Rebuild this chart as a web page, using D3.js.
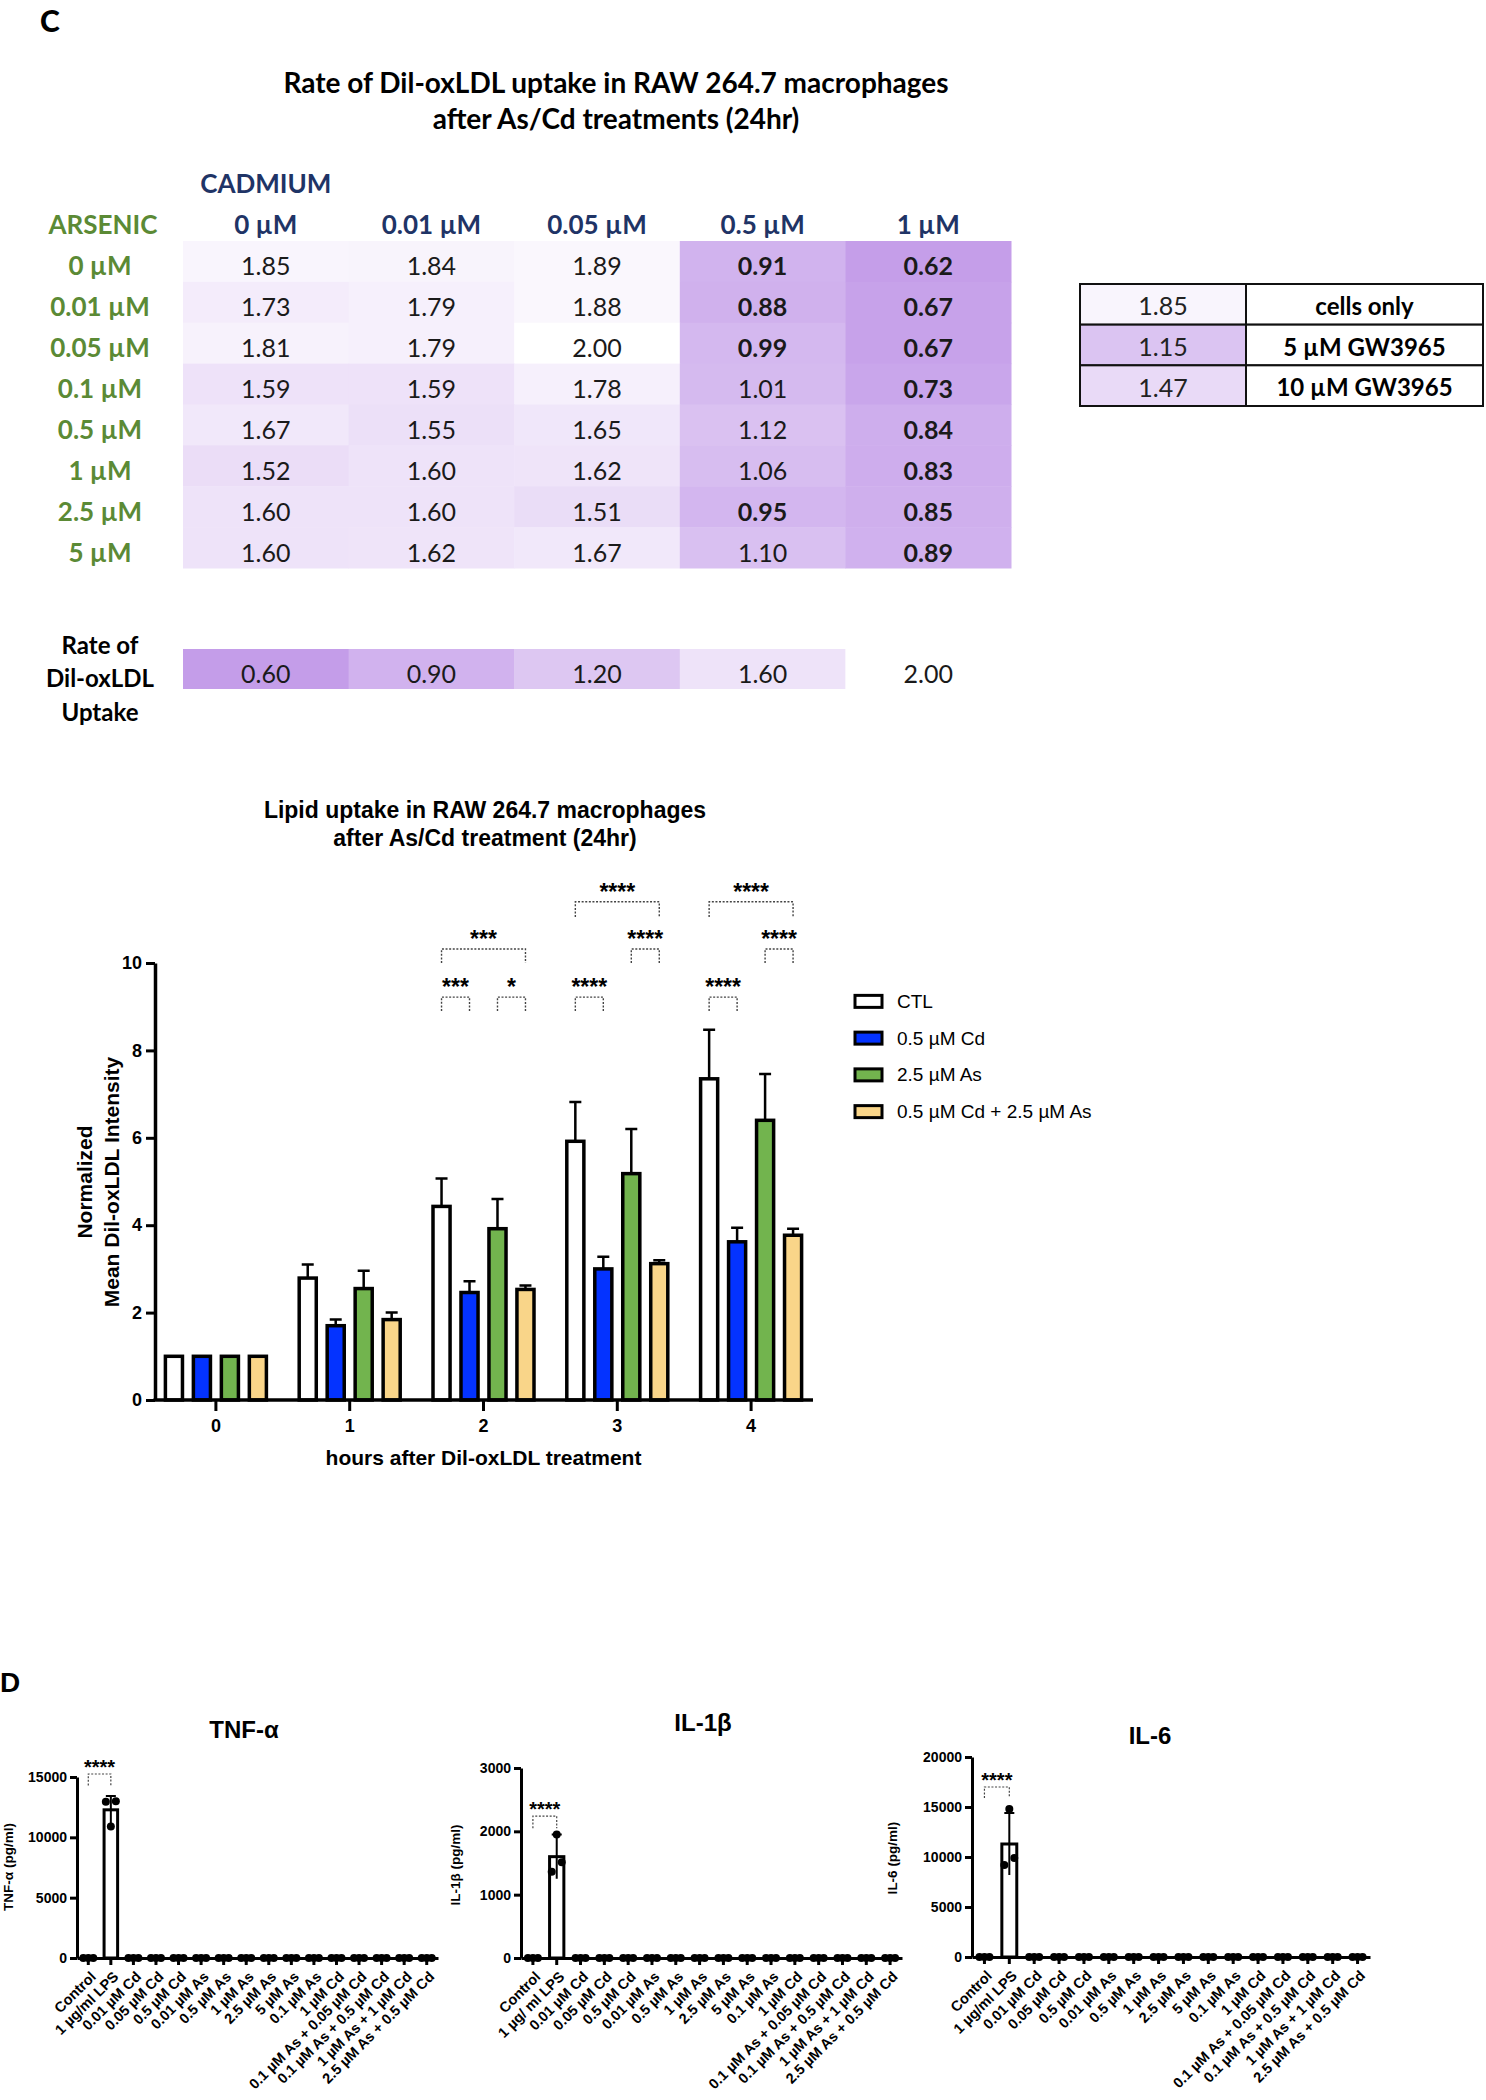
<!DOCTYPE html>
<html><head><meta charset="utf-8">
<script src="https://cdn.jsdelivr.net/npm/d3@7"></script>
<style>body{margin:0;background:#fff}</style>
</head><body><svg id="c" width="1486" height="2100" xmlns="http://www.w3.org/2000/svg"></svg>
<script>
// ================= DATA =================
// Panel C - heatmap
const cadmiumLevels = ["0 µM","0.01 µM","0.05 µM","0.5 µM","1 µM"];
const arsenicLevels = ["0 µM","0.01 µM","0.05 µM","0.1 µM","0.5 µM","1 µM","2.5 µM","5 µM"];
const uptakeRows = [
  [1.85,1.84,1.89,0.91,0.62],
  [1.73,1.79,1.88,0.88,0.67],
  [1.81,1.79,2.00,0.99,0.67],
  [1.59,1.59,1.78,1.01,0.73],
  [1.67,1.55,1.65,1.12,0.84],
  [1.52,1.60,1.62,1.06,0.83],
  [1.60,1.60,1.51,0.95,0.85],
  [1.60,1.62,1.67,1.10,0.89]
];
const legendSteps = [0.60,0.90,1.20,1.60,2.00];
const controlValues = [1.85,1.15,1.47];
const controlLabels = ["cells only","5 µM GW3965","10 µM GW3965"];

// Panel C - grouped bar chart
const hours = ["0","1","2","3","4"];
const treatments = ["CTL","0.5 µM Cd","2.5 µM As","0.5 µM Cd + 2.5 µM As"];
const treatmentColors = ["#ffffff","#0433ff","#72b44e","#f9d589"];
const ctlMean  = [1.0,2.79,4.43,5.92,7.35];
const ctlErr   = [0,0.31,0.64,0.90,1.12];
const cdMean   = [1.0,1.70,2.46,3.00,3.62];
const cdErr    = [0,0.14,0.26,0.28,0.32];
const asMean   = [1.0,2.55,3.92,5.18,6.40];
const asErr    = [0,0.41,0.68,1.02,1.06];
const cdAsMean = [1.0,1.84,2.53,3.12,3.77];
const cdAsErr  = [0,0.16,0.09,0.08,0.15];
const yTicksC = [0,2,4,6,8,10];
// significance brackets: group, from, to, bracket top value, leg end value, label
const sigGroup = ["2","2","2","3","3","3","4","4","4"];
const sigFrom  = ["CTL","2.5 µM As","CTL","CTL","2.5 µM As","CTL","CTL","2.5 µM As","CTL"];
const sigTo    = ["0.5 µM Cd","0.5 µM Cd + 2.5 µM As","0.5 µM Cd + 2.5 µM As","0.5 µM Cd","0.5 µM Cd + 2.5 µM As","0.5 µM Cd + 2.5 µM As","0.5 µM Cd","0.5 µM Cd + 2.5 µM As","0.5 µM Cd + 2.5 µM As"];
const sigTop   = [9.22,9.22,10.32,9.22,10.32,11.4,9.22,10.32,11.4];
const sigLeg   = [8.9,8.9,10.0,8.9,10.0,11.05,8.9,10.0,11.05];
const sigLabel = ["***","*","***","****","****","****","****","****","****"];

// Panel D - cytokines
const cytokineCategories = ["Control","1 µg/ml LPS","0.01 µM Cd","0.05 µM Cd","0.5 µM Cd","0.01 µM As","0.5 µM As","1 µM As","2.5 µM As","5 µM As","0.1 µM As","1 µM Cd","0.1 µM As + 0.05 µM Cd","0.1 µM As + 0.5 µM Cd","1 µM As + 1 µM Cd","2.5 µM As + 0.5 µM Cd"];
const il1bCategories = ["Control","1 µg/ ml LPS","0.01 µM Cd","0.05 µM Cd","0.5 µM Cd","0.01 µM As","0.5 µM As","1 µM As","2.5 µM As","5 µM As","0.1 µM As","1 µM Cd","0.1 µM As + 0.05 µM Cd","0.1 µM As + 0.5 µM Cd","1 µM As + 1 µM Cd","2.5 µM As + 0.5 µM Cd"];
const tnfMean = [0,12280,0,0,0,0,0,0,0,0,0,0,0,0,0,0];
const tnfSD   = [0,1150,0,0,0,0,0,0,0,0,0,0,0,0,0,0];
const tnfReps = [[0,0,0],[12950,10900,13000],[0,0,0],[0,0,0],[0,0,0],[0,0,0],[0,0,0],[0,0,0],[0,0,0],[0,0,0],[0,0,0],[0,0,0],[0,0,0],[0,0,0],[0,0,0],[0,0,0]];
const tnfTicks = [0,5000,10000,15000];
const il1bMean = [0,1600,0,0,0,0,0,0,0,0,0,0,0,0,0,0];
const il1bSD   = [0,350,0,0,0,0,0,0,0,0,0,0,0,0,0,0];
const il1bReps = [[0,0,0],[1360,1950,1510],[0,0,0],[0,0,0],[0,0,0],[0,0,0],[0,0,0],[0,0,0],[0,0,0],[0,0,0],[0,0,0],[0,0,0],[0,0,0],[0,0,0],[0,0,0],[0,0,0]];
const il1bTicks = [0,1000,2000,3000];
const il6Mean = [0,11300,0,0,0,0,0,0,0,0,0,0,0,0,0,0];
const il6SD   = [0,3100,0,0,0,0,0,0,0,0,0,0,0,0,0,0];
const il6Reps = [[0,0,0],[9200,14800,9900],[0,0,0],[0,0,0],[0,0,0],[0,0,0],[0,0,0],[0,0,0],[0,0,0],[0,0,0],[0,0,0],[0,0,0],[0,0,0],[0,0,0],[0,0,0],[0,0,0]];
const il6Ticks = [0,5000,10000,15000,20000];
const cytoSigTop = [15250,2240,17000];
const cytoSigLeg = [14300,2050,15900];

// ================= DRAWING =================
const svg = d3.select("#c");
const CAL = "Lato, 'Open Sans', sans-serif";
const ARIAL = "'Liberation Sans', Arial, sans-serif";
const navy = "#1f3466", green = "#5b8a35";

// Panel letters
svg.append("text").attr("x",40).attr("y",32).text("C")
  .attr("font-family",CAL).attr("font-weight","900").attr("font-size",30);
svg.append("text").attr("x",0).attr("y",1692).text("D")
  .attr("font-family",ARIAL).attr("font-weight","bold").attr("font-size",28);

// ---- Heatmap ----
const hm = svg.append("g").attr("font-family",CAL);
["Rate of Dil-oxLDL uptake in RAW 264.7 macrophages","after As/Cd treatments (24hr)"].forEach((t,i)=>{
  hm.append("text").attr("x",616).attr("y",82+i*36).attr("text-anchor","middle")
    .attr("dominant-baseline","central").attr("font-weight","bold").attr("font-size",28).text(t);
});
const hx = d3.scaleBand().domain(cadmiumLevels).range([183,1011]);
const hy = d3.scaleBand().domain(arsenicLevels).range([241,568]);
const hcolor = d3.scaleLinear().domain([0.6,2.0]).range(["#c49de9","#ffffff"]);
const tdy = 4;

hm.append("text").attr("x",hx(cadmiumLevels[0])+hx.bandwidth()/2).attr("y",183)
  .attr("text-anchor","middle").attr("dominant-baseline","central")
  .attr("font-weight","bold").attr("font-size",26).attr("fill",navy).text("CADMIUM");
hm.append("text").attr("x",103).attr("y",224)
  .attr("text-anchor","middle").attr("dominant-baseline","central")
  .attr("font-weight","bold").attr("font-size",26).attr("fill",green).text("ARSENIC");
hm.selectAll("text.colh").data(cadmiumLevels).join("text").attr("class","colh")
  .attr("x",d=>hx(d)+hx.bandwidth()/2).attr("y",224)
  .attr("text-anchor","middle").attr("dominant-baseline","central")
  .attr("font-weight","bold").attr("font-size",26).attr("fill",navy).text(d=>d);
hm.selectAll("text.rowh").data(arsenicLevels).join("text").attr("class","rowh")
  .attr("x",100).attr("y",d=>hy(d)+hy.bandwidth()/2+tdy)
  .attr("text-anchor","middle").attr("dominant-baseline","central")
  .attr("font-weight","bold").attr("font-size",26).attr("fill",green).text(d=>d);

const cells = [];
uptakeRows.forEach((row,i)=>row.forEach((v,j)=>cells.push({r:arsenicLevels[i],c:cadmiumLevels[j],v})));
hm.selectAll("rect.cell").data(cells).join("rect").attr("class","cell")
  .attr("x",d=>hx(d.c)).attr("y",d=>hy(d.r)).attr("width",hx.bandwidth()+0.5).attr("height",hy.bandwidth()+0.5)
  .attr("fill",d=>hcolor(d.v));
hm.selectAll("text.cellv").data(cells).join("text").attr("class","cellv")
  .attr("x",d=>hx(d.c)+hx.bandwidth()/2).attr("y",d=>hy(d.r)+hy.bandwidth()/2+tdy)
  .attr("text-anchor","middle").attr("dominant-baseline","central")
  .attr("font-size",25).attr("font-weight",d=>d.v<1?"bold":"normal").attr("fill","#1a1a1a")
  .text(d=>d3.format(".2f")(d.v));

// legend row
const legY = d3.scaleBand().domain(["legend"]).range([649,689]);
["Rate of","Dil-oxLDL","Uptake"].forEach((t,i)=>{
  hm.append("text").attr("x",100).attr("y",644+i*33.5).attr("text-anchor","middle")
    .attr("dominant-baseline","central").attr("font-weight","bold").attr("font-size",24).text(t);
});
hm.selectAll("rect.leg").data(legendSteps).join("rect").attr("class","leg")
  .attr("x",(d,i)=>hx(cadmiumLevels[i])).attr("y",legY("legend"))
  .attr("width",hx.bandwidth()+0.5).attr("height",legY.bandwidth()).attr("fill",d=>hcolor(d));
hm.selectAll("text.legv").data(legendSteps).join("text").attr("class","legv")
  .attr("x",(d,i)=>hx(cadmiumLevels[i])+hx.bandwidth()/2).attr("y",legY("legend")+legY.bandwidth()/2+tdy)
  .attr("text-anchor","middle").attr("dominant-baseline","central").attr("font-size",25).attr("fill","#1a1a1a")
  .text(d=>d3.format(".2f")(d));

// side table
const sty = d3.scaleBand().domain(controlLabels).range([284,406]);
const stx0 = 1080, stx1 = 1246, stx2 = 1483;
hm.selectAll("rect.stv").data(controlValues).join("rect").attr("class","stv")
  .attr("x",stx0).attr("y",(d,i)=>sty(controlLabels[i])).attr("width",stx1-stx0).attr("height",sty.bandwidth())
  .attr("fill",d=>hcolor(d)).attr("stroke","#111").attr("stroke-width",2);
hm.selectAll("rect.stl").data(controlLabels).join("rect").attr("class","stl")
  .attr("x",stx1).attr("y",d=>sty(d)).attr("width",stx2-stx1).attr("height",sty.bandwidth())
  .attr("fill","#fff").attr("stroke","#111").attr("stroke-width",2);
hm.selectAll("text.stvt").data(controlValues).join("text").attr("class","stvt")
  .attr("x",(stx0+stx1)/2).attr("y",(d,i)=>sty(controlLabels[i])+sty.bandwidth()/2+1)
  .attr("text-anchor","middle").attr("dominant-baseline","central").attr("font-size",25).attr("fill","#222")
  .text(d=>d3.format(".2f")(d));
hm.selectAll("text.stlt").data(controlLabels).join("text").attr("class","stlt")
  .attr("x",(stx1+stx2)/2).attr("y",d=>sty(d)+sty.bandwidth()/2+1)
  .attr("text-anchor","middle").attr("dominant-baseline","central").attr("font-size",24).attr("font-weight","bold")
  .text(d=>d);

// ---- Grouped bar chart ----
const bc = svg.append("g").attr("font-family",ARIAL);
["Lipid uptake in RAW 264.7 macrophages","after As/Cd treatment (24hr)"].forEach((t,i)=>{
  bc.append("text").attr("x",485).attr("y",810+i*28).attr("text-anchor","middle")
    .attr("dominant-baseline","central").attr("font-weight","bold").attr("font-size",23).text(t);
});
const bx = d3.scaleBand().domain(hours).range([149,818]);
const bsub = d3.scaleBand().domain(treatments).range([-50.5,50.5]).paddingInner(0.39);
const by = d3.scaleLinear().domain([0,10]).range([1400,963]);
const axisX0 = 155;

const means = [ctlMean,cdMean,asMean,cdAsMean];
const errs = [ctlErr,cdErr,asErr,cdAsErr];
const barData = [];
treatments.forEach((t,k)=>hours.forEach((h,i)=>barData.push({t,h,k,v:means[k][i],e:errs[k][i]})));
const bxc = d => bx(d.h)+bx.bandwidth()/2+bsub(d.t);
// error bars (upward)
bc.selectAll("path.err").data(barData.filter(d=>d.e>0)).join("path").attr("class","err")
  .attr("d",d=>{const cx=bxc(d)+bsub.bandwidth()/2;return `M${cx},${by(d.v)}V${by(d.v+d.e)}M${cx-6},${by(d.v+d.e)}H${cx+6}`;})
  .attr("stroke","#000").attr("stroke-width",2.5).attr("fill","none");
bc.selectAll("rect.bar").data(barData).join("rect").attr("class","bar")
  .attr("x",d=>bxc(d)).attr("y",d=>by(d.v)).attr("width",bsub.bandwidth()).attr("height",d=>by(0)-by(d.v))
  .attr("fill",d=>treatmentColors[d.k]).attr("stroke","#000").attr("stroke-width",3.5);

// axes
const yAx = bc.append("g").attr("transform",`translate(${axisX0},0)`)
  .call(d3.axisLeft(by).tickValues(yTicksC).tickSize(9).tickSizeOuter(0).tickPadding(4));
yAx.select(".domain").attr("stroke-width",3.5);
yAx.selectAll(".tick line").attr("stroke-width",3);
yAx.selectAll("text").attr("font-size",18).attr("font-weight","bold").attr("font-family",ARIAL);
const xAx = bc.append("g").attr("transform",`translate(0,${by(0)})`)
  .call(d3.axisBottom(bx).tickSize(11).tickSizeOuter(0).tickPadding(8));
xAx.select(".domain").remove();
xAx.selectAll(".tick line").attr("stroke-width",3);
xAx.selectAll("text").attr("font-size",18).attr("font-weight","bold").attr("font-family",ARIAL);
bc.append("line").attr("x1",axisX0-1.5).attr("x2",bx.range()[1]-5).attr("y1",by(0)).attr("y2",by(0))
  .attr("stroke","#000").attr("stroke-width",3.5);

bc.append("text").attr("x",bx(hours[2])+bx.bandwidth()/2).attr("y",1457).attr("text-anchor","middle")
  .attr("dominant-baseline","central").attr("font-weight","bold").attr("font-size",21).text("hours after Dil-oxLDL treatment");
["Normalized","Mean Dil-oxLDL Intensity"].forEach((t,i)=>{
  bc.append("text").attr("transform",`translate(${84+i*27},${1182}) rotate(-90)`).attr("text-anchor","middle")
    .attr("dominant-baseline","central").attr("font-weight","bold").attr("font-size",21).text(t);
});

// significance
sigGroup.forEach((g,i)=>{
  const x1 = bx(g)+bx.bandwidth()/2+bsub(sigFrom[i])+bsub.bandwidth()/2;
  const x2 = bx(g)+bx.bandwidth()/2+bsub(sigTo[i])+bsub.bandwidth()/2;
  bc.append("path").attr("d",`M${x1},${by(sigLeg[i])}V${by(sigTop[i])}H${x2}V${by(sigLeg[i])}`)
    .attr("fill","none").attr("stroke","#444").attr("stroke-width",1.4).attr("stroke-dasharray","2,1.6");
  bc.append("text").attr("x",(x1+x2)/2).attr("y",by(sigTop[i])-14+12).attr("text-anchor","middle")
    .attr("font-weight","bold").attr("font-size",23).text(sigLabel[i]);
});

// legend
const legS = d3.scaleBand().domain(treatments).range([983,1130]);
treatments.forEach((t,k)=>{
  const cy = legS(t)+legS.bandwidth()/2;
  bc.append("rect").attr("x",855).attr("y",cy-6).attr("width",27).attr("height",12)
    .attr("fill",treatmentColors[k]).attr("stroke","#000").attr("stroke-width",3);
  bc.append("text").attr("x",897).attr("y",cy).attr("dominant-baseline","central").attr("font-size",19).text(t);
});

// ---- Panel D ----
function cytokine(cfg){
  const g = svg.append("g").attr("font-family",ARIAL);
  const x = d3.scaleBand().domain(cfg.cats).range([cfg.x0,cfg.x1]);
  const y = d3.scaleLinear().domain([0,cfg.max]).range([cfg.y0,cfg.yTop]);
  const cx = c => x(c)+x.bandwidth()/2;
  const bw = x.step()*0.6;
  g.append("text").attr("x",cfg.tx).attr("y",cfg.ty).attr("text-anchor","middle").attr("dominant-baseline","central")
    .attr("font-weight","bold").attr("font-size",24).text(cfg.title);
  g.append("text").attr("transform",`translate(${cfg.lx},${cfg.ly}) rotate(-90)`).attr("text-anchor","middle")
    .attr("dominant-baseline","central").attr("font-weight","bold").attr("font-size",13.5).text(cfg.ylabel);
  const d = cfg.cats.map((c,i)=>({c,v:cfg.mean[i],sd:cfg.sd[i],reps:cfg.reps[i]}));
  // bars
  g.selectAll("rect.b").data(d.filter(e=>e.v>0)).join("rect").attr("class","b")
    .attr("x",e=>cx(e.c)-bw/2).attr("y",e=>y(e.v)).attr("width",bw).attr("height",e=>y(0)-y(e.v))
    .attr("fill","#fff").attr("stroke","#000").attr("stroke-width",3);
  // error bars
  g.selectAll("path.e").data(d.filter(e=>e.sd>0)).join("path").attr("class","e")
    .attr("d",e=>`M${cx(e.c)},${y(e.v-e.sd)}V${y(e.v+e.sd)}M${cx(e.c)-5},${y(e.v+e.sd)}H${cx(e.c)+5}`)
    .attr("stroke","#000").attr("stroke-width",2).attr("fill","none");
  // replicate dots
  const offs = [-5,0,5];
  const pts = [];
  d.forEach(e=>e.reps.forEach((r,j)=>pts.push({c:e.c,r,j})));
  g.selectAll("circle").data(pts).join("circle")
    .attr("cx",p=>cx(p.c)+offs[p.j]).attr("cy",p=>y(p.r)).attr("r",4).attr("fill","#000");
  // axes
  const ya = g.append("g").attr("transform",`translate(${cfg.x0},0)`)
    .call(d3.axisLeft(y).tickValues(cfg.ticks).tickFormat(d3.format("d")).tickSize(7).tickSizeOuter(0).tickPadding(3));
  ya.select(".domain").attr("stroke-width",3);
  ya.selectAll(".tick line").attr("stroke-width",3);
  ya.selectAll("text").attr("font-size",14).attr("font-weight","bold").attr("font-family",ARIAL);
  const xa = g.append("g").attr("transform",`translate(0,${cfg.y0})`)
    .call(d3.axisBottom(x).tickSize(7).tickSizeOuter(0));
  xa.select(".domain").attr("stroke-width",3);
  xa.selectAll(".tick line").attr("stroke-width",3);
  xa.selectAll("text").attr("font-size",14.5).attr("font-weight","bold").attr("font-family",ARIAL)
    .attr("text-anchor","end").attr("dy",null).attr("y",null)
    .attr("transform","translate(5,16) rotate(-45)").attr("dominant-baseline","central");
  // significance
  const x1 = cx(cfg.cats[0]), x2 = cx(cfg.cats[1]);
  g.append("path").attr("d",`M${x1},${y(cfg.sigLeg)}V${y(cfg.sigTop)}H${x2}V${y(cfg.sigLeg)}`)
    .attr("fill","none").attr("stroke","#444").attr("stroke-width",1.2).attr("stroke-dasharray","2,1.6");
  g.append("text").attr("x",(x1+x2)/2).attr("y",y(cfg.sigTop)-11+11).attr("text-anchor","middle")
    .attr("font-weight","bold").attr("font-size",20).text("****");
}
cytokine({cats:cytokineCategories,mean:tnfMean,sd:tnfSD,reps:tnfReps,ticks:tnfTicks,max:15000,
  x0:77,x1:438,y0:1958,yTop:1777,title:"TNF-α",tx:244,ty:1729,ylabel:"TNF-α (pg/ml)",lx:8,ly:1867,
  sigTop:cytoSigTop[0],sigLeg:cytoSigLeg[0]});
cytokine({cats:il1bCategories,mean:il1bMean,sd:il1bSD,reps:il1bReps,ticks:il1bTicks,max:3000,
  x0:521,x1:902,y0:1958,yTop:1768,title:"IL-1β",tx:703,ty:1722,ylabel:"IL-1β (pg/ml)",lx:455,ly:1865,
  sigTop:cytoSigTop[1],sigLeg:cytoSigLeg[1]});
cytokine({cats:cytokineCategories,mean:il6Mean,sd:il6SD,reps:il6Reps,ticks:il6Ticks,max:20000,
  x0:972,x1:1370,y0:1957,yTop:1757,title:"IL-6",tx:1150,ty:1735,ylabel:"IL-6 (pg/ml)",lx:892,ly:1858,
  sigTop:cytoSigTop[2],sigLeg:cytoSigLeg[2]});
</script></body></html>
